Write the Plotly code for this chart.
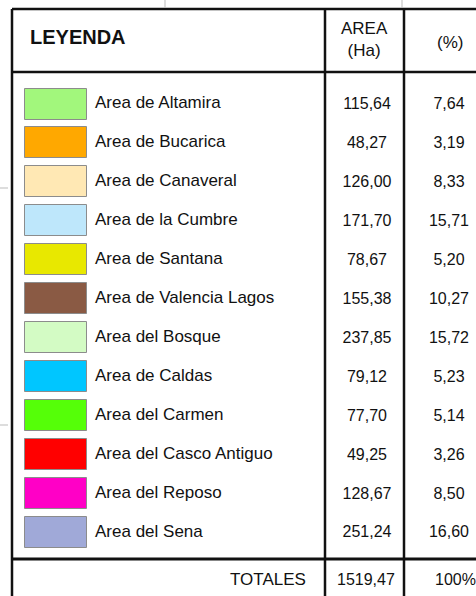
import plotly.graph_objects as go

# ---- data ----
areas = ["Area de Altamira", "Area de Bucarica", "Area de Canaveral", "Area de la Cumbre",
         "Area de Santana", "Area de Valencia Lagos", "Area del Bosque", "Area de Caldas",
         "Area del Carmen", "Area del Casco Antiguo", "Area del Reposo", "Area del Sena"]
area_ha = ["115,64", "48,27", "126,00", "171,70", "78,67", "155,38", "237,85", "79,12",
           "77,70", "49,25", "128,67", "251,24"]
percent = ["7,64", "3,19", "8,33", "15,71", "5,20", "10,27", "15,72", "5,23",
           "5,14", "3,26", "8,50", "16,60"]
swatch_colors = ["#A2F77C", "#FFA800", "#FFE8B4", "#BEE7FB", "#E8E800", "#8A5A44",
                 "#D3FBC4", "#00C6FF", "#55FF08", "#FF0000", "#FF00C6", "#A0A9D8"]
total_label = "TOTALES"
total_area = "1519,47"
total_pct = "100%"
header_legend = "LEYENDA"
header_area = "AREA<br>(Ha)"
header_pct = "(%)"

# ---- layout helpers ----
n = len(areas)
row0, step = 104.0, 38.95
rows = [row0 + i * step for i in range(n)]
FONT = "Liberation Sans, Arial, sans-serif"

fig = go.Figure()

# swatches
fig.add_trace(go.Bar(
    orientation="h", y=rows, x=[62] * n, base=25, width=31,
    marker=dict(color=swatch_colors, line=dict(color="#8c8c8c", width=1)),
    hoverinfo="skip", showlegend=False))

# labels
fig.add_trace(go.Scatter(mode="text", x=[95] * n, y=rows, text=areas,
                         textposition="middle right",
                         textfont=dict(family=FONT, size=17, color="#111"),
                         showlegend=False, hoverinfo="skip", cliponaxis=False))
fig.add_trace(go.Scatter(mode="text", x=[367] * n, y=[r + 1 for r in rows], text=area_ha,
                         textposition="middle center",
                         textfont=dict(family=FONT, size=16, color="#111"),
                         showlegend=False, hoverinfo="skip", cliponaxis=False))
fig.add_trace(go.Scatter(mode="text", x=[449] * n, y=[r + 1 for r in rows], text=percent,
                         textposition="middle center",
                         textfont=dict(family=FONT, size=16, color="#111"),
                         showlegend=False, hoverinfo="skip", cliponaxis=False))

# header & totals
ann = [
    dict(x=28, y=37, text=header_legend, xanchor="left", font=dict(size=20, family=FONT, color="#111"), bold=True),
    dict(x=364, y=39, text=header_area, xanchor="center", font=dict(size=17, family=FONT, color="#111")),
    dict(x=450, y=42, text=header_pct, xanchor="center", font=dict(size=17, family=FONT, color="#111")),
    dict(x=308, y=579, text=total_label, xanchor="right", font=dict(size=17, family=FONT, color="#111")),
    dict(x=366, y=579, text=total_area, xanchor="center", font=dict(size=16, family=FONT, color="#111")),
    dict(x=455, y=579, text=total_pct, xanchor="center", font=dict(size=16, family=FONT, color="#111")),
]
for a in ann:
    bold = a.pop("bold", False)
    if bold:
        a["text"] = "<b>" + a["text"] + "</b>"
    fig.add_annotation(xref="x", yref="y", yanchor="middle", showarrow=False, **a)

# table lines
lines = [
    (12, 9, 476, 9, 2.5),
    (12, 9, 12, 596, 2.5),
    (12, 72, 476, 72, 2.5),
    (325, 9, 325, 596, 2.5),
    (404, 9, 404, 596, 2.5),
    (12, 559, 476, 559, 3),
]
for x0, y0, x1, y1, w in lines:
    fig.add_shape(type="line", x0=x0, y0=y0, x1=x1, y1=y1, xref="x", yref="y",
                  line=dict(color="#111", width=w))
# faint scan marks
for x0, y0, x1, y1 in [(165, 0, 165, 8), (402, 0, 402, 8), (0, 188, 8, 188), (0, 425, 8, 425)]:
    fig.add_shape(type="line", x0=x0, y0=y0, x1=x1, y1=y1, xref="x", yref="y",
                  line=dict(color="#bbbbbb", width=1))

fig.update_layout(
    width=476, height=596, margin=dict(l=0, r=0, t=0, b=0),
    paper_bgcolor="white", plot_bgcolor="white",
    xaxis=dict(range=[0, 476], visible=False, fixedrange=True),
    yaxis=dict(range=[596, 0], visible=False, fixedrange=True),
    bargap=0, showlegend=False,
)
fig.write_html("out.html", config={"displayModeBar": False},
               post_script="document.body.style.margin='0';document.body.style.overflow='hidden';")
